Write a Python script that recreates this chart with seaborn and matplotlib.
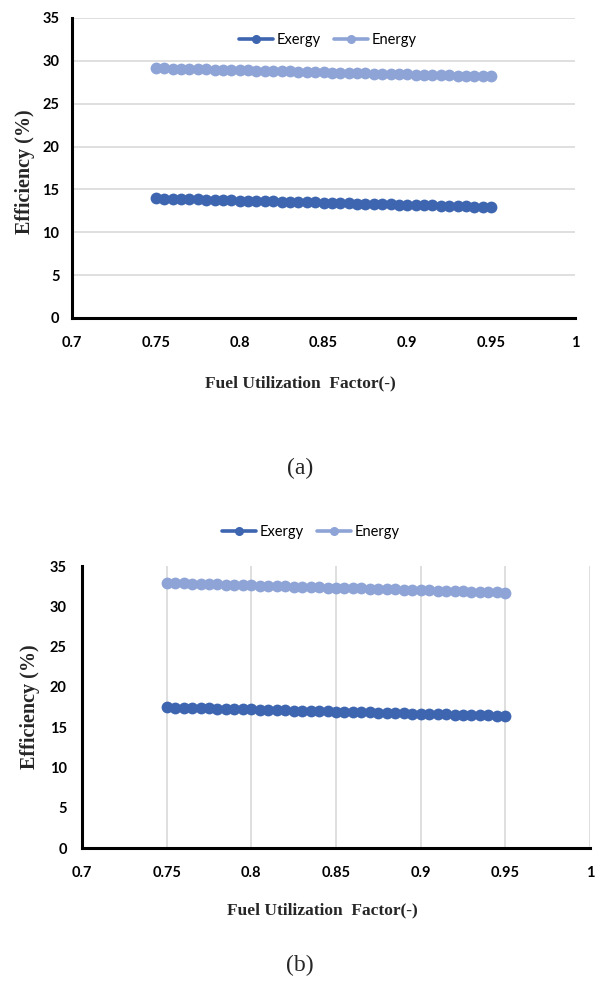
import numpy as np
import pandas as pd
import matplotlib
matplotlib.use("Agg")
import matplotlib.pyplot as plt
import seaborn as sns

# ---------------- data ----------------
fuf = [0.750, 0.755, 0.760, 0.765, 0.770, 0.775, 0.780, 0.785, 0.790, 0.795,
       0.800, 0.805, 0.810, 0.815, 0.820, 0.825, 0.830, 0.835, 0.840, 0.845,
       0.850, 0.855, 0.860, 0.865, 0.870, 0.875, 0.880, 0.885, 0.890, 0.895,
       0.900, 0.905, 0.910, 0.915, 0.920, 0.925, 0.930, 0.935, 0.940, 0.945,
       0.950]

energy_a = [29.15, 29.12, 29.10, 29.07, 29.05, 29.02, 29.00, 28.97, 28.95, 28.93,
            28.90, 28.88, 28.85, 28.83, 28.81, 28.78, 28.76, 28.73, 28.71, 28.69,
            28.66, 28.64, 28.61, 28.59, 28.57, 28.54, 28.52, 28.49, 28.47, 28.45,
            28.42, 28.40, 28.37, 28.35, 28.33, 28.30, 28.28, 28.25, 28.23, 28.21,
            28.18]
exergy_a = [13.95, 13.93, 13.90, 13.88, 13.85, 13.83, 13.80, 13.78, 13.75, 13.73,
            13.70, 13.68, 13.65, 13.63, 13.60, 13.58, 13.55, 13.53, 13.50, 13.48,
            13.45, 13.43, 13.40, 13.38, 13.35, 13.33, 13.30, 13.28, 13.25, 13.23,
            13.20, 13.18, 13.15, 13.13, 13.10, 13.08, 13.05, 13.03, 13.00, 12.98,
            12.95]
energy_b = [32.90, 32.87, 32.84, 32.81, 32.78, 32.75, 32.72, 32.69, 32.66, 32.63,
            32.60, 32.57, 32.54, 32.51, 32.48, 32.45, 32.42, 32.39, 32.36, 32.33,
            32.30, 32.27, 32.24, 32.21, 32.18, 32.15, 32.12, 32.09, 32.06, 32.03,
            32.00, 31.97, 31.94, 31.91, 31.88, 31.85, 31.82, 31.79, 31.76, 31.73,
            31.70]
exergy_b = [17.45, 17.42, 17.40, 17.37, 17.34, 17.32, 17.29, 17.27, 17.24, 17.21,
            17.19, 17.16, 17.13, 17.11, 17.08, 17.06, 17.03, 17.00, 16.98, 16.95,
            16.93, 16.90, 16.87, 16.85, 16.82, 16.79, 16.77, 16.74, 16.72, 16.69,
            16.66, 16.64, 16.61, 16.58, 16.56, 16.53, 16.51, 16.48, 16.45, 16.43,
            16.40]

series_names = ["Exergy", "Energy"]
x_ticks = [0.7, 0.75, 0.8, 0.85, 0.9, 0.95, 1.0]
x_ticklabels = ["0.7", "0.75", "0.8", "0.85", "0.9", "0.95", "1"]
y_ticks = [0, 5, 10, 15, 20, 25, 30, 35]
captions = ["(a)", "(b)"]
xlabel = "Fuel Utilization  Factor(-)"
ylabel = "Efficiency (%)"

colors = {"Exergy": "#3D65B0", "Energy": "#8FA4D6"}

sns.set_theme(style="white")
plt.rcParams["font.family"] = ["DejaVu Sans"]

W, H = 597, 983
fig = plt.figure(figsize=(W / 100, H / 100), dpi=100)

tick_font = dict(family="Lato", weight="bold", size=10.5)
label_font = dict(family="Liberation Serif", weight="bold")


def make_df(exergy, energy):
    return pd.DataFrame({
        "x": fuf + fuf,
        "y": exergy + energy,
        "series": ["Exergy"] * len(fuf) + ["Energy"] * len(fuf),
    })


def px_axes(left, right, top, bottom):
    return [left / W, 1 - bottom / H, (right - left) / W, (bottom - top) / H]


def style_axes(ax, grid_axis, ypad, xpad, xlab_pos, ylab_pos):
    ax.set_xlim(0.7, 1.0)
    ax.set_ylim(0, 35)
    ax.set_xticks(x_ticks)
    ax.set_xticklabels(x_ticklabels, fontdict=tick_font)
    ax.set_yticks(y_ticks)
    ax.set_yticklabels([str(v) for v in y_ticks], fontdict=tick_font)
    for s in ["top", "right"]:
        ax.spines[s].set_visible(False)
    for s in ["left", "bottom"]:
        ax.spines[s].set_color("black")
        ax.spines[s].set_linewidth(2.2)
    ax.tick_params(axis="both", length=0, colors="black")
    ax.tick_params(axis="y", pad=ypad)
    ax.tick_params(axis="x", pad=xpad)
    ax.grid(False)
    ax.grid(True, axis=grid_axis, color="#d9d9d9", linewidth=1.2)
    ax.set_axisbelow(True)
    ax.set_xlabel(xlabel, fontsize=12.5, va="center", **label_font)
    ax.xaxis.set_label_coords(*xlab_pos)
    ax.set_ylabel(ylabel, fontsize=14.5, va="center", **label_font)
    ax.yaxis.set_label_coords(*ylab_pos)


def add_legend(ax, anchor):
    leg = ax.legend(loc="center", bbox_to_anchor=anchor, ncol=2, frameon=False,
                    handlelength=2.3, columnspacing=0.9, handletextpad=0.3,
                    prop=dict(family="Lato", size=10.5))
    for h in leg.legend_handles:
        h.set_markersize(6.5)
        h.set_linewidth(2.6)
    for t in leg.get_texts():
        t.set_color("black")
    return leg


# ---------------- panel (a) ----------------
ax1 = fig.add_axes(px_axes(72, 575, 18, 318))
sns.lineplot(data=make_df(exergy_a, energy_a), x="x", y="y", hue="series",
             hue_order=series_names, palette=colors, marker="o", markersize=8.5,
             markeredgewidth=0, linewidth=2, ax=ax1)
style_axes(ax1, "y", ypad=9, xpad=13,
           xlab_pos=((300 - 72) / 503, (318 - 383) / 300),
           ylab_pos=((25 - 72) / 503, (318 - 172) / 300))
add_legend(ax1, ((328 - 72) / 503, (318 - 40) / 300))

# ---------------- panel (b) ----------------
ax2 = fig.add_axes(px_axes(82, 590, 566, 848))
sns.lineplot(data=make_df(exergy_b, energy_b), x="x", y="y", hue="series",
             hue_order=series_names, palette=colors, marker="o", markersize=8.5,
             markeredgewidth=0, linewidth=2, ax=ax2)
style_axes(ax2, "x", ypad=11, xpad=13,
           xlab_pos=((322 - 82) / 508, (848 - 910) / 282),
           ylab_pos=((30 - 82) / 508, (848 - 707) / 282))
add_legend(ax2, ((311 - 82) / 508, (848 - 532) / 282))

# captions
fig.text(300 / W, 1 - 468 / H, captions[0], ha="center", va="center",
         family="Liberation Serif", size=17)
fig.text(300 / W, 1 - 965 / H, captions[1], ha="center", va="center",
         family="Liberation Serif", size=17)

fig.savefig("out.png", dpi=100)
